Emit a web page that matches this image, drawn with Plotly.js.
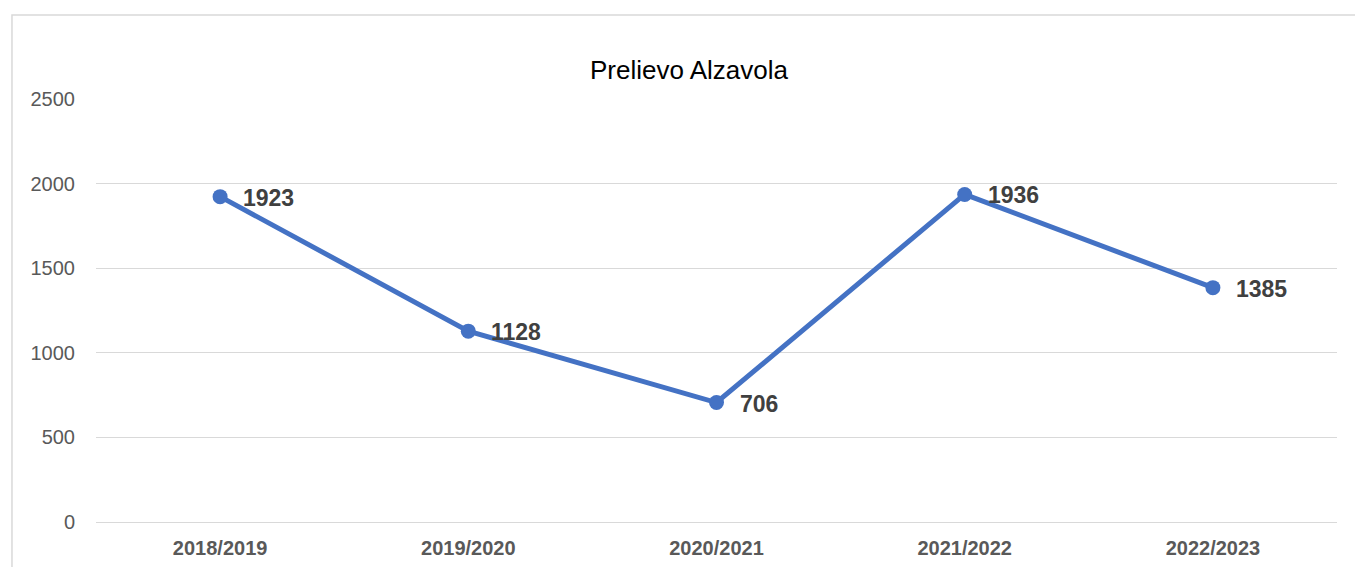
<!DOCTYPE html>
<html><head><meta charset="utf-8">
<script src="https://cdn.plot.ly/plotly-3.0.1.min.js"></script>
<style>html,body{margin:0;padding:0;background:#fff;overflow:hidden}#c{width:1355px;height:567px}</style>
</head><body><div id="c"></div>
<script>
const seasons = ["2018/2019","2019/2020","2020/2021","2021/2022","2022/2023"];
const prelievo = [1923, 1128, 706, 1936, 1385];
const yTicks = [0, 500, 1000, 1500, 2000, 2500];

const FONT = 'Liberation Sans, Arial, sans-serif';
const trace = {
  x: seasons, y: prelievo, type: 'scatter', mode: 'lines+markers',
  line: {color: '#4472C4', width: 5},
  marker: {color: '#4472C4', size: 15},
  cliponaxis: false, hoverinfo: 'skip'
};
const labels = seasons.map((s, i) => ({
  x: s, y: prelievo[i], text: String(prelievo[i]), showarrow: false,
  xanchor: 'left', yanchor: 'middle', xshift: 21, yshift: -1,
  font: {family: FONT, size: 23, color: '#404040', weight: 'bold'}
}));
const layout = {
  width: 1355, height: 567,
  margin: {l: 96, r: 18, t: 99, b: 45},
  paper_bgcolor: '#fff', plot_bgcolor: '#fff',
  showlegend: false,
  font: {family: FONT, color: '#595959'},
  title: {text: 'Prelievo Alzavola', font: {size: 26, color: '#000'},
          xref: 'container', x: 0.5085, xanchor: 'center', yref: 'container', y: 0.876, yanchor: 'middle'},
  xaxis: {type: 'category', range: [-0.5, 4.5], showgrid: false, zeroline: false, showline: false,
          ticks: '', tickfont: {size: 20, color: '#595959', weight: 'bold'}, ticklabelstandoff: 12},
  yaxis: {range: [0, 2500], tickvals: yTicks, showgrid: true, gridcolor: '#d9d9d9', gridwidth: 1,
          zeroline: true, zerolinecolor: '#d9d9d9', zerolinewidth: 1, showline: false, ticks: '',
          tickfont: {size: 20, color: '#595959'}, ticklabelstandoff: 20},
  annotations: labels,
  shapes: [{type: 'rect', xref: 'paper', yref: 'paper', x0: -0.0677, x1: 1.03, y0: -0.2, y1: 1.1986,
            line: {color: '#d9d9d9', width: 1.5}, fillcolor: 'rgba(0,0,0,0)', layer: 'below'}]
};
Plotly.newPlot('c', [trace], layout, {displayModeBar: false, staticPlot: true});
</script></body></html>
